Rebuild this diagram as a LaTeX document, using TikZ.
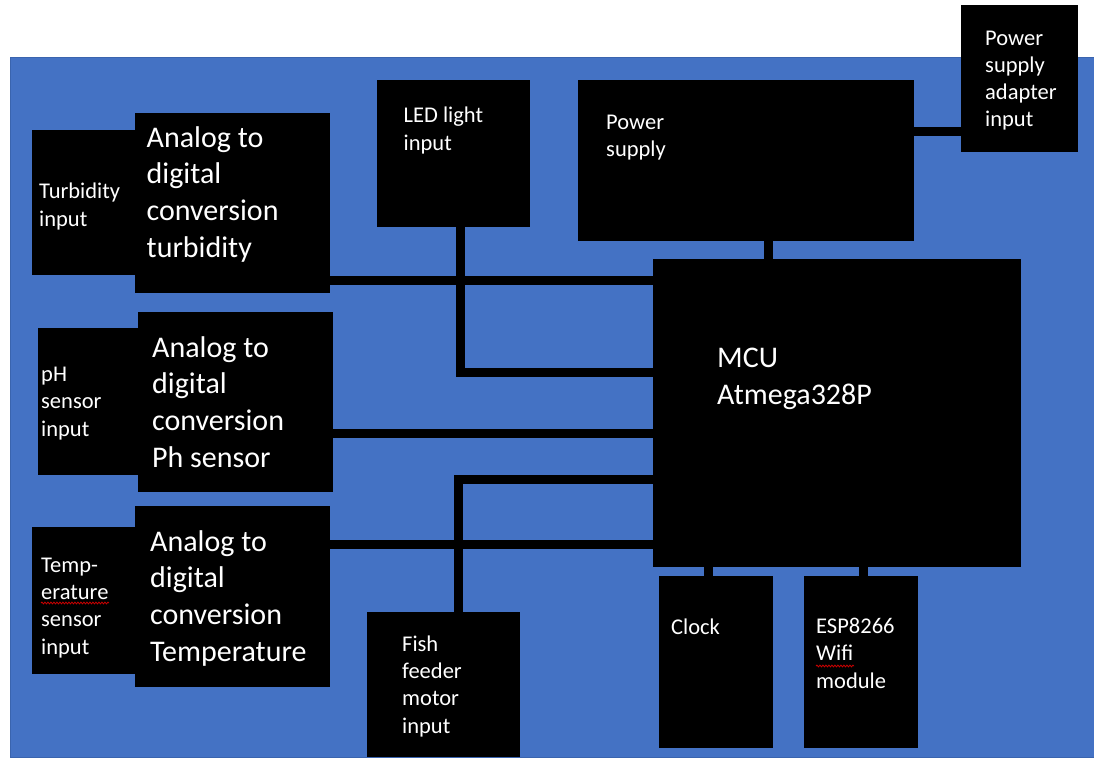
\documentclass[tikz,border=0pt]{standalone}
\usepackage{fontspec}
\setmainfont{Carlito}
\usetikzlibrary{decorations.pathmorphing}
\definecolor{bgblue}{HTML}{4472C4}
\definecolor{bgedge}{HTML}{3A64AE}
\tikzset{
  box/.style={fill=black, draw=none, inner sep=0pt, outer sep=0pt, anchor=north west},
  wire/.style={draw=black, line width=9pt, line join=miter, line cap=butt},
  txt/.style={text=white, inner sep=0pt, align=left, anchor=base west, font=\fontsize{22.5}{27.3}\selectfont},
  bigtxt/.style={text=white, inner sep=0pt, align=left, anchor=base west, font=\fontsize{30}{36.6}\selectfont},
  squiggle/.style={draw=red!80!black, line width=0.8pt, decorate, decoration={snake, amplitude=0.9pt, segment length=3pt}}
}
\begin{document}
\begin{tikzpicture}[x=1pt, y=-1pt]
\useasboundingbox (0,0) rectangle (1094,757);
\fill[white] (0,0) rectangle (1094,757);
\filldraw[fill=bgblue, draw=bgedge, line width=1pt] (10.5,57.5) rectangle (1094,757);

% boxes
\node[box, minimum width=103pt, minimum height=145pt] (turbin) at (32,130) {};
\node[box, minimum width=195pt, minimum height=180pt] (adcT) at (135,113) {};
\node[box, minimum width=153pt, minimum height=147pt] (led) at (377,80) {};
\node[box, minimum width=336pt, minimum height=161pt] (ps) at (578,80) {};
\node[box, minimum width=117pt, minimum height=147pt] (adapter) at (961,5) {};
\node[box, minimum width=368pt, minimum height=308pt] (mcu) at (653,259) {};
\node[box, minimum width=100pt, minimum height=147pt] (phin) at (37.5,328) {};
\node[box, minimum width=195pt, minimum height=180pt] (adcP) at (137.5,312) {};
\node[box, minimum width=103pt, minimum height=147pt] (tempin) at (32,527) {};
\node[box, minimum width=195pt, minimum height=181pt] (adcTe) at (135,506) {};
\node[box, minimum width=153pt, minimum height=145pt] (fish) at (367,612) {};
\node[box, minimum width=114pt, minimum height=172pt] (clock) at (659,576) {};
\node[box, minimum width=114pt, minimum height=172pt] (esp) at (804,576) {};

% connectors
\draw[wire] (adcT.east |- 0,280) -- (mcu.west |- 0,280);
\draw[wire] (adcP.east |- 0,433) -- (mcu.west |- 0,433);
\draw[wire] (adcTe.east |- 0,544.5) -- (mcu.west |- 0,544.5);
\draw[wire] (led.south -| 460,0) |- (mcu.west |- 0,372);
\draw[wire] (fish.north -| 458,0) |- (mcu.west |- 0,479.5);
\draw[wire] (ps.south -| 768,0) -- (mcu.north -| 768,0);
\draw[wire] (ps.east |- 0,131.5) -- (adapter.west |- 0,131.5);
\draw[wire] (mcu.south -| 708,0) -- (clock.north -| 708,0);
\draw[wire] (mcu.south -| 863,0) -- (esp.north -| 863,0);

% texts (anchored at the baseline of the last line)
\node[txt] (tturbin) at (39,226) {Turbidity\\input};
\node[bigtxt] (tadcT) at (146.5,257) {Analog to\\digital\\conversion\\turbidity};
\node[txt] (tled) at (403.5,150) {LED light\\input};
\node[txt] (tps) at (606,157) {Power\\supply};
\node[txt] (tadapter) at (985,127) {Power\\supply\\adapter\\input};
\node[bigtxt] (tmcu) at (717,404) {MCU\\Atmega328P};
\node[txt] (tphin) at (41,436) {pH\\sensor\\input};
\node[bigtxt] (tadcP) at (152,467) {Analog to\\digital\\conversion\\Ph sensor};
\node[txt] (ttempin) at (41,654) {Temp-\\erature\\sensor\\input};
\node[bigtxt] (tadcTe) at (150,661) {Analog to\\digital\\conversion\\Temperature};
\node[txt] (tfish) at (402,733) {Fish\\feeder\\motor\\input};
\node[txt] (tclock) at (671,634) {Clock};
\node[txt] (tesp) at (816,688) {ESP8266\\Wifi\\module};

% spell-check underlines
\draw[squiggle] (41,603) -- (109,603);
\draw[squiggle] (816,666) -- (854,666);
\end{tikzpicture}
\end{document}
